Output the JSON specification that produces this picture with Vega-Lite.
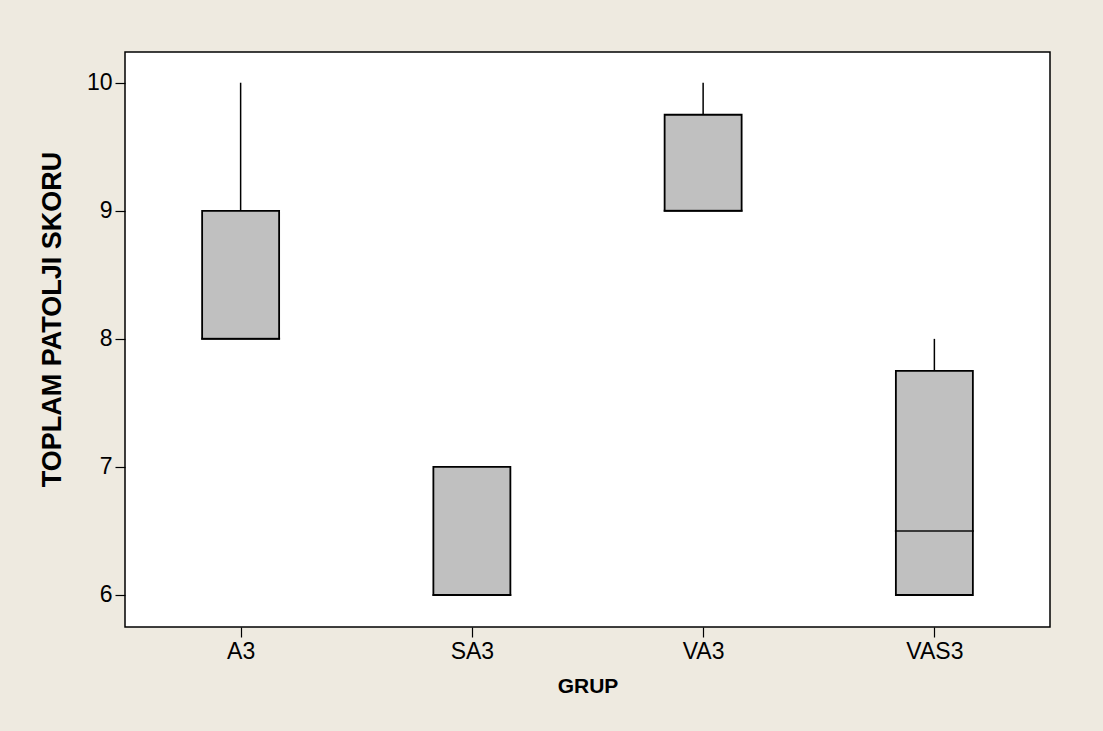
{
  "$schema": "https://vega.github.io/schema/vega-lite/v6.json",
  "autosize": "none",
  "width": 925,
  "height": 575,
  "padding": {"left": 125, "top": 52, "right": 53, "bottom": 104},
  "background": "#EEEAE0",
  "config": {
    "view": {"fill": "white", "stroke": "black", "strokeWidth": 1.5},
    "font": "Liberation Sans",
    "axis": {
      "grid": false,
      "domain": false,
      "tickColor": "black",
      "tickSize": 10,
      "tickWidth": 1.2,
      "labelColor": "black",
      "labelFont": "Liberation Sans",
      "labelFontSize": 23,
      "titleFont": "Liberation Sans",
      "titleFontWeight": "bold",
      "titleColor": "black"
    }
  },
  "data": {
    "values": [
      {"group": "A3", "lower": 8, "q1": 8, "median": 8, "q3": 9, "upper": 10},
      {"group": "SA3", "lower": 6, "q1": 6, "median": 6, "q3": 7, "upper": 7},
      {"group": "VA3", "lower": 9, "q1": 9, "median": 9, "q3": 9.75, "upper": 10},
      {"group": "VAS3", "lower": 6, "q1": 6, "median": 6.5, "q3": 7.75, "upper": 8}
    ]
  },
  "encoding": {
    "x": {
      "field": "group",
      "type": "nominal",
      "scale": {"type": "point", "padding": 0.5},
      "axis": {"title": "GRUP", "labelAngle": 0, "labelPadding": 3, "titlePadding": 12, "titleFontSize": 21}
    }
  },
  "layer": [
    {
      "mark": {"type": "rule", "color": "black", "strokeWidth": 1.5},
      "encoding": {
        "y": {
          "field": "q3",
          "type": "quantitative",
          "scale": {"domain": [5.75, 10.24], "nice": false, "zero": false},
          "axis": {"title": "TOPLAM PATOLJI SKORU", "values": [6, 7, 8, 9, 10], "format": "d", "labelPadding": 3, "titlePadding": 20, "titleFontSize": 27, "titleY": 267}
        },
        "y2": {"field": "upper"}
      }
    },
    {
      "mark": {"type": "bar", "width": 77, "fill": "#C0C0C0", "stroke": "black", "strokeWidth": 1.8},
      "encoding": {
        "y": {"field": "q1", "type": "quantitative"},
        "y2": {"field": "q3"}
      }
    },
    {
      "mark": {"type": "tick", "color": "black", "size": 79, "thickness": 2},
      "encoding": {
        "y": {"field": "median", "type": "quantitative"}
      }
    }
  ]
}
